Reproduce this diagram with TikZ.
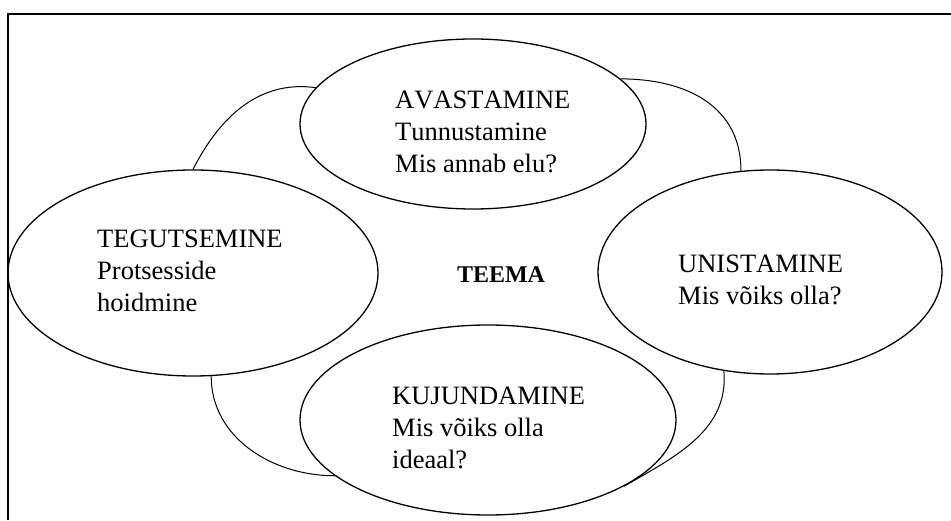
\documentclass[tikz,border=0pt]{standalone}
\usepackage{fontspec}
\setmainfont{Liberation Serif}[Kerning=Off]
\usetikzlibrary{shapes.geometric}

\begin{document}
\begin{tikzpicture}[x=1pt,y=1pt,
  stage/.style={draw=black,line width=1.3pt,ellipse,inner sep=0pt},
  stagetext/.style={inner sep=0pt,anchor=north west,align=left,
    font=\fontsize{26.5}{31.7}\selectfont},
  link/.style={draw=black,line width=1pt}]
  \useasboundingbox (0,0) rectangle (951,520);
  \draw[line width=1.6pt] (8,0) -- (8,506) -- (951,506);
  % the four stages
  \node[stage,minimum width=346pt,minimum height=170pt] (avastamine) at (473,396) {};
  \node[stage,minimum width=370pt,minimum height=206pt] (tegutsemine) at (193,247) {};
  \node[stage,minimum width=344pt,minimum height=204pt] (unistamine) at (770,248) {};
  \node[stage,minimum width=376pt,minimum height=190pt] (kujundamine) at (488,100) {};
  \node[stagetext] (avastaminetext) at (395,429) {AVASTAMINE\\Tunnustamine\\Mis annab elu?};
  \node[stagetext] (tegutseminetext) at (97,290) {TEGUTSEMINE\\Protsesside\\hoidmine};
  \node[stagetext] (unistaminetext) at (678,265) {UNISTAMINE\\Mis võiks olla?};
  \node[stagetext] (kujundaminetext) at (392,133) {KUJUNDAMINE\\Mis võiks olla\\ideaal?};
  \node[font=\bfseries\fontsize{24}{28}\selectfont] (teema) at (501,245) {TEEMA};
  % arcs between the stages
  \draw[link] (tegutsemine.north) to[out=63,in=172] (avastamine.167);
  \draw[link] (avastamine.17) to[out=0,in=90,looseness=1.1] (unistamine.106);
  \draw[link] (tegutsemine.280) to[out=-90,in=180] (kujundamine.200);
  \draw[link] (unistamine.245) to[out=-85,in=30] (kujundamine.334);
\end{tikzpicture}
\end{document}
